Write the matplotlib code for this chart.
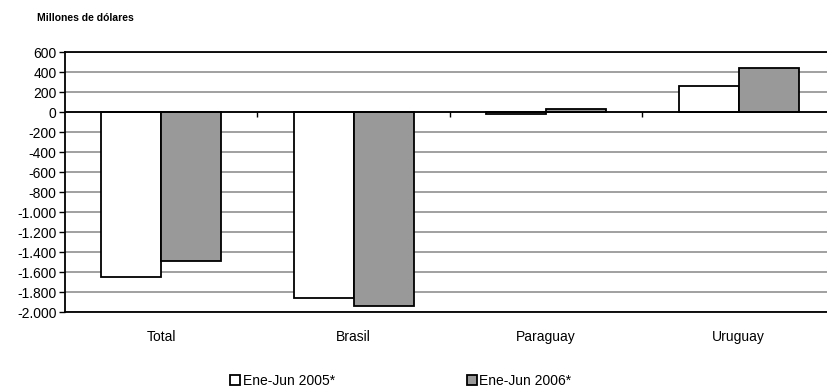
import numpy as np
import matplotlib.pyplot as plt
from matplotlib.patches import Patch

plt.rcParams['font.family'] = ['Liberation Sans', 'DejaVu Sans']

categories = ["Total", "Brasil", "Paraguay", "Uruguay"]
series_names = ["Ene-Jun 2005*", "Ene-Jun 2006*"]
values_2005 = [-1645, -1860, -20, 257]
values_2006 = [-1485, -1940, 35, 437]
yticks = list(range(-2000, 601, 200))

fig = plt.figure(figsize=(8.28, 3.92), dpi=100)
ax = fig.add_axes([65 / 828, 80 / 392, 770 / 828, 260 / 392])

x = np.arange(len(categories))
w = 0.3125
ax.bar(x - w / 2, values_2005, w, color="white", edgecolor="black", linewidth=1.3, zorder=3)
ax.bar(x + w / 2, values_2006, w, color="#999999", edgecolor="black", linewidth=1.3, zorder=3)

ax.set_xlim(-0.5, len(categories) - 0.5)
ax.set_ylim(-2000, 600)
ax.set_yticks(yticks)
ax.set_yticklabels([f"{v:,}".replace(",", ".") for v in yticks], fontsize=10)
ax.grid(axis="y", color="#999999", linewidth=1.3, zorder=0)
ax.tick_params(axis="y", direction="out", length=4, width=1, pad=2)

# category labels below the plot, no ticks there
ax.set_xticks(x)
ax.set_xticklabels(categories, fontsize=10)
ax.tick_params(axis="x", length=0, pad=13)

# zero line with tick marks at the category boundaries
ax.axhline(0, color="black", linewidth=1.3, zorder=4)
ax.vlines(x[:-1] + 0.5, -45, 0, color="black", linewidth=1, zorder=4)

for s in ax.spines.values():
    s.set_linewidth(1.3)

fig.text(37 / 828, 1 - 18 / 392, "Millones de dólares", fontsize=7.5,
         fontweight="bold", va="center")

handles = [Patch(facecolor="white", edgecolor="black", linewidth=1.3),
           Patch(facecolor="#999999", edgecolor="black", linewidth=1.3)]
fig.legend(handles, series_names, loc="center", bbox_to_anchor=(401 / 828, 1 - 381 / 392),
           ncol=2, frameon=False, fontsize=10, handlelength=0.7, handleheight=0.7,
           handletextpad=0.2, columnspacing=9.5)

fig.savefig("out.png", dpi=100)
